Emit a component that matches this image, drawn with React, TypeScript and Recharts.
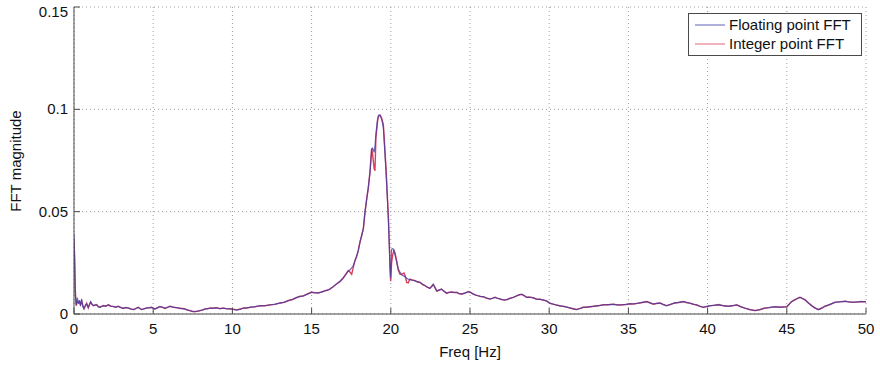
import React from 'react';
import { LineChart, Line, XAxis, YAxis, CartesianGrid } from 'recharts';

const freq = [
  0.0, 0.04, 0.08, 0.14, 0.21, 0.28, 0.34, 0.41, 0.48, 0.56, 0.63, 0.72, 0.8, 0.9, 0.98,
  1.05, 1.14, 1.22, 1.32, 1.43, 1.54, 1.64, 1.75, 1.85, 2.0, 2.17, 2.32, 2.48, 2.64, 2.8,
  2.95, 3.11, 3.27, 3.43, 3.59, 3.75, 3.9, 4.06, 4.17, 4.27, 4.43, 4.59, 4.75, 4.9, 5.0,
  5.11, 5.27, 5.43, 5.59, 5.74, 5.9, 6.06, 6.22, 6.38, 6.53, 6.69, 6.85, 7.0, 7.16, 7.32,
  7.48, 7.64, 7.8, 7.95, 8.11, 8.27, 8.43, 8.59, 8.8, 9.0, 9.21, 9.43, 9.64, 9.85, 10.06,
  10.27, 10.48, 10.69, 10.9, 11.1, 11.42, 11.74, 12.05, 12.37, 12.69, 13.0, 13.27, 13.53, 13.8, 14.06,
  14.27, 14.48, 14.74, 15.0, 15.21, 15.42, 15.64, 15.85, 16.0, 16.16, 16.37, 16.58, 16.79, 17.0, 17.16,
  17.32, 17.42, 17.53, 17.64, 17.74, 17.85, 17.95, 18.06, 18.16, 18.27, 18.37, 18.48, 18.58, 18.69, 18.79,
  18.85, 18.95, 19.0, 19.06, 19.16, 19.22, 19.27, 19.33, 19.43, 19.53, 19.6, 19.7, 19.78, 19.85, 19.91,
  19.95, 19.99, 20.05, 20.12, 20.2, 20.26, 20.37, 20.47, 20.58, 20.7, 20.83, 20.92, 21.0, 21.1, 21.2,
  21.36, 21.53, 21.68, 21.84, 22.0, 22.16, 22.32, 22.47, 22.58, 22.68, 22.79, 22.9, 23.05, 23.2, 23.37,
  23.53, 23.68, 23.84, 24.0, 24.16, 24.32, 24.48, 24.69, 24.9, 25.05, 25.2, 25.35, 25.5, 25.67, 25.84,
  26.05, 26.26, 26.42, 26.58, 26.74, 26.9, 27.05, 27.2, 27.37, 27.53, 27.74, 27.95, 28.1, 28.26, 28.42,
  28.58, 28.74, 28.9, 29.05, 29.2, 29.42, 29.63, 29.84, 30.05, 30.37, 30.7, 30.95, 31.2, 31.45, 31.7,
  31.93, 32.15, 32.47, 32.8, 33.1, 33.4, 33.72, 34.05, 34.32, 34.58, 34.84, 35.1, 35.35, 35.6, 35.88,
  36.15, 36.36, 36.57, 36.78, 37.0, 37.2, 37.4, 37.65, 37.9, 38.18, 38.47, 38.7, 38.9, 39.1, 39.3,
  39.52, 39.73, 39.94, 40.15, 40.42, 40.7, 41.0, 41.3, 41.57, 41.84, 42.1, 42.36, 42.68, 43.0, 43.3,
  43.6, 43.92, 44.25, 44.62, 45.0, 45.15, 45.3, 45.56, 45.83, 46.0, 46.15, 46.36, 46.57, 46.78, 47.0,
  47.2, 47.4, 47.72, 48.05, 48.37, 48.7, 48.95, 49.2, 49.45, 49.7, 50.0,
];

const floatingFFT = [
  0.039, 0.024, 0.009, 0.0045, 0.008, 0.005, 0.0068, 0.004, 0.0073, 0.0035, 0.0024, 0.0045, 0.0049, 0.0032, 0.0045,
  0.006, 0.0048, 0.004, 0.0045, 0.0044, 0.0036, 0.0032, 0.0038, 0.004, 0.0039, 0.0044, 0.0039, 0.0036, 0.0034, 0.0037,
  0.0031, 0.0028, 0.0032, 0.0029, 0.0025, 0.0021, 0.0027, 0.0032, 0.0026, 0.0021, 0.0026, 0.0029, 0.0031, 0.0032, 0.0028,
  0.0024, 0.0031, 0.0037, 0.0032, 0.0028, 0.0033, 0.0037, 0.0034, 0.0032, 0.003, 0.0028, 0.0026, 0.0024, 0.002, 0.0016,
  0.0013, 0.0011, 0.0014, 0.0016, 0.002, 0.0024, 0.0026, 0.0028, 0.0029, 0.003, 0.0027, 0.0028, 0.0026, 0.0025, 0.0022,
  0.0019, 0.0024, 0.0028, 0.003, 0.0032, 0.0036, 0.004, 0.0041, 0.0044, 0.0048, 0.0053, 0.0058, 0.0065, 0.0072, 0.0081,
  0.0085, 0.0089, 0.0097, 0.0105, 0.0104, 0.0102, 0.0108, 0.0113, 0.0117, 0.0121, 0.0135, 0.0146, 0.016, 0.0178, 0.0192,
  0.021, 0.0215, 0.0225, 0.0238, 0.026, 0.0285, 0.031, 0.0355, 0.038, 0.042, 0.05, 0.056, 0.062, 0.069, 0.08,
  0.081, 0.079, 0.082, 0.088, 0.095, 0.097, 0.0972, 0.0968, 0.095, 0.091, 0.082, 0.069, 0.057, 0.045, 0.032,
  0.022, 0.0175, 0.0316, 0.032, 0.031, 0.029, 0.0255, 0.022, 0.0205, 0.019, 0.0185, 0.018, 0.0175, 0.017, 0.0168,
  0.0165, 0.0162, 0.0158, 0.0154, 0.0146, 0.0138, 0.0131, 0.0125, 0.0134, 0.0146, 0.0128, 0.0113, 0.0118, 0.0121, 0.011,
  0.0102, 0.0105, 0.0108, 0.0106, 0.0105, 0.01, 0.0097, 0.0103, 0.0108, 0.0105, 0.0097, 0.0093, 0.0089, 0.0086, 0.0084,
  0.0078, 0.0073, 0.0077, 0.0081, 0.0077, 0.0073, 0.007, 0.0068, 0.0072, 0.0076, 0.0082, 0.0089, 0.0093, 0.0097, 0.0089,
  0.0081, 0.0083, 0.0081, 0.0077, 0.0073, 0.0071, 0.0069, 0.0063, 0.0053, 0.0045, 0.004, 0.0036, 0.0032, 0.0026, 0.0021,
  0.0027, 0.0032, 0.0035, 0.0037, 0.0041, 0.0044, 0.0046, 0.0047, 0.0045, 0.0044, 0.0047, 0.0049, 0.005, 0.0052, 0.0057,
  0.006, 0.0054, 0.0049, 0.0052, 0.0053, 0.0046, 0.004, 0.0047, 0.0053, 0.0057, 0.006, 0.0056, 0.0052, 0.0048, 0.0044,
  0.0038, 0.0032, 0.0037, 0.004, 0.0043, 0.0045, 0.0041, 0.0037, 0.0041, 0.0044, 0.0036, 0.0028, 0.0022, 0.0016, 0.0022,
  0.0028, 0.0032, 0.0035, 0.0034, 0.0035, 0.0048, 0.006, 0.0072, 0.0081, 0.0076, 0.0069, 0.0055, 0.004, 0.003, 0.0021,
  0.0029, 0.0037, 0.0047, 0.0057, 0.006, 0.0062, 0.0059, 0.0057, 0.0059, 0.006, 0.006,
];

const integerFFT = [
  0.036, 0.028, 0.012, 0.004, 0.006, 0.0055, 0.006, 0.0045, 0.0065, 0.004, 0.0028, 0.004, 0.0052, 0.003, 0.0048,
  0.0058, 0.0046, 0.0042, 0.0043, 0.0046, 0.0035, 0.0034, 0.0037, 0.0041, 0.0038, 0.0045, 0.0038, 0.0037, 0.0033, 0.0038,
  0.0032, 0.0027, 0.0031, 0.003, 0.0024, 0.0022, 0.0026, 0.0033, 0.0027, 0.0022, 0.0025, 0.003, 0.003, 0.0033, 0.0029,
  0.0025, 0.003, 0.0036, 0.0033, 0.0027, 0.0032, 0.0038, 0.0035, 0.0031, 0.0031, 0.0027, 0.0027, 0.0025, 0.0019, 0.0017,
  0.0012, 0.0012, 0.0013, 0.0017, 0.0019, 0.0025, 0.0025, 0.0029, 0.0028, 0.0031, 0.0026, 0.0029, 0.0025, 0.0026, 0.0023,
  0.002, 0.0023, 0.0029, 0.0029, 0.0033, 0.0035, 0.0041, 0.004, 0.0045, 0.0047, 0.0054, 0.0057, 0.0066, 0.0071, 0.008,
  0.0087, 0.0088, 0.0098, 0.0107, 0.0103, 0.0104, 0.0107, 0.0114, 0.0116, 0.0123, 0.0133, 0.0148, 0.0158, 0.0176, 0.0195,
  0.0212, 0.0205, 0.0194, 0.023, 0.0262, 0.0282, 0.0312, 0.0352, 0.0385, 0.0418, 0.0495, 0.0565, 0.0615, 0.07, 0.081,
  0.078, 0.071, 0.07, 0.086, 0.094, 0.0965, 0.097, 0.0972, 0.0955, 0.0925, 0.084, 0.071, 0.058, 0.047, 0.034,
  0.024, 0.016, 0.025, 0.029, 0.031, 0.03, 0.026, 0.0215, 0.0194, 0.0195, 0.02, 0.0185, 0.0154, 0.0152, 0.017,
  0.0166, 0.0163, 0.0156, 0.0155, 0.0144, 0.0139, 0.013, 0.0126, 0.0136, 0.0144, 0.013, 0.0112, 0.0116, 0.0122, 0.0111,
  0.0101, 0.0106, 0.0107, 0.0105, 0.0106, 0.0099, 0.0098, 0.0102, 0.011, 0.0104, 0.0098, 0.0092, 0.009, 0.0085, 0.0085,
  0.0077, 0.0074, 0.0076, 0.0082, 0.0076, 0.0074, 0.0069, 0.0069, 0.0071, 0.0077, 0.0081, 0.0088, 0.0094, 0.0096, 0.009,
  0.0082, 0.0082, 0.008, 0.0078, 0.0072, 0.0072, 0.0068, 0.0064, 0.0052, 0.0046, 0.0039, 0.0037, 0.0031, 0.0027, 0.0022,
  0.0026, 0.0033, 0.0034, 0.0038, 0.004, 0.0045, 0.0045, 0.0048, 0.0044, 0.0045, 0.0046, 0.005, 0.0049, 0.0053, 0.0056,
  0.0061, 0.0055, 0.0048, 0.0051, 0.0054, 0.0047, 0.0041, 0.0046, 0.0054, 0.0056, 0.0061, 0.0055, 0.0053, 0.0047, 0.0045,
  0.0037, 0.0033, 0.0036, 0.0041, 0.0042, 0.0046, 0.004, 0.0038, 0.004, 0.0045, 0.0035, 0.0029, 0.0021, 0.0017, 0.0021,
  0.0029, 0.0031, 0.0036, 0.0033, 0.0036, 0.0047, 0.0061, 0.0071, 0.0082, 0.0075, 0.007, 0.0054, 0.0041, 0.0029, 0.0022,
  0.0028, 0.0038, 0.0046, 0.0058, 0.0059, 0.0063, 0.0058, 0.0058, 0.0058, 0.0061, 0.0059,
];

const xTicks = [0, 5, 10, 15, 20, 25, 30, 35, 40, 45, 50];
const yTicks = [0, 0.05, 0.1, 0.15];
const yTickLabels = ['0', '0.05', '0.1', '0.15'];
const seriesNames = ['Floating point FFT', 'Integer point FFT'];

const BLUE = '#3a3aa8';
const RED = '#d8405a';
const AXIS = '#4a4a4a';
const FONT = '"Liberation Sans", Arial, Helvetica, sans-serif';

const data = freq.map((f, i) => ({ f, floating: floatingFFT[i], integer: integerFFT[i] }));

const BottomTick = (props: any) => {
  const { x, y, payload } = props;
  return (
    <g>
      <line x1={x} x2={x} y1={y} y2={y - 6} stroke={AXIS} strokeWidth={1} />
      <text x={x} y={y + 20} textAnchor="middle" fontSize={15} fill="#111" fontFamily={FONT}>
        {String(payload.value)}
      </text>
    </g>
  );
};

const TopTick = (props: any) => {
  const { x, y } = props;
  return <line x1={x} x2={x} y1={y} y2={y + 6} stroke={AXIS} strokeWidth={1} />;
};

const LeftTick = (props: any) => {
  const { x, y, payload } = props;
  const idx = yTicks.indexOf(payload.value);
  const baseline = Math.max(y + 5, 17);
  return (
    <g>
      <line x1={x} x2={x + 6} y1={y} y2={y} stroke={AXIS} strokeWidth={1} />
      <text x={x - 6} y={baseline} textAnchor="end" fontSize={15} fill="#111" fontFamily={FONT}>
        {idx >= 0 ? yTickLabels[idx] : String(payload.value)}
      </text>
    </g>
  );
};

const RightTick = (props: any) => {
  const { x, y } = props;
  return <line x1={x} x2={x - 6} y1={y} y2={y} stroke={AXIS} strokeWidth={1} />;
};

export default function App() {
  return (
    <div style={{ position: 'absolute', left: 0, top: 0, width: 880, height: 368, background: '#fff' }}>
      <LineChart
        width={880}
        height={368}
        data={data}
        margin={{ top: 7, right: 14, bottom: 0, left: 0 }}
      >
        <CartesianGrid
          stroke="#9a9a9a"
          strokeDasharray="1 3"
          horizontalValues={yTicks}
          verticalValues={xTicks}
        />
        <XAxis
          dataKey="f"
          type="number"
          domain={[0, 50]}
          ticks={xTicks}
          allowDataOverflow
          height={54}
          tickSize={0}
          tickMargin={0}
          tickLine={false}
          axisLine={{ stroke: AXIS, strokeWidth: 1 }}
          tick={BottomTick}
          interval={0}
        />
        <XAxis
          xAxisId="top"
          orientation="top"
          dataKey="f"
          type="number"
          domain={[0, 50]}
          ticks={xTicks}
          allowDataOverflow
          height={0}
          tickSize={0}
          tickMargin={0}
          tickLine={false}
          axisLine={{ stroke: AXIS, strokeWidth: 1 }}
          tick={TopTick}
          interval={0}
        />
        <YAxis
          type="number"
          domain={[0, 0.15]}
          ticks={yTicks}
          allowDataOverflow
          width={74}
          tickSize={0}
          tickMargin={0}
          tickLine={false}
          axisLine={{ stroke: AXIS, strokeWidth: 1 }}
          tick={LeftTick}
          interval={0}
        />
        <YAxis
          yAxisId="right"
          orientation="right"
          type="number"
          domain={[0, 0.15]}
          ticks={yTicks}
          allowDataOverflow
          width={0}
          tickSize={0}
          tickMargin={0}
          tickLine={false}
          axisLine={{ stroke: AXIS, strokeWidth: 1 }}
          tick={RightTick}
          interval={0}
        />
        <Line
          type="linear"
          dataKey="integer"
          name={seriesNames[1]}
          stroke={RED}
          strokeWidth={1.4}
          dot={false}
          isAnimationActive={false}
        />
        <Line
          type="linear"
          dataKey="floating"
          name={seriesNames[0]}
          stroke={BLUE}
          strokeWidth={1.2}
          strokeOpacity={0.75}
          dot={false}
          isAnimationActive={false}
        />
        <text
          x={15}
          y={161}
          transform="rotate(-90 15 161)"
          textAnchor="middle"
          dominantBaseline="central"
          fontSize={15}
          fill="#111"
          fontFamily={FONT}
        >
          FFT magnitude
        </text>
        <text x={470} y={357} textAnchor="middle" fontSize={15} fill="#111" fontFamily={FONT}>
          Freq [Hz]
        </text>
      </LineChart>
      <div
        style={{
          position: 'absolute',
          left: 688,
          top: 13,
          width: 174,
          height: 43,
          border: `1px solid ${AXIS}`,
          background: '#fff',
          fontFamily: FONT,
          fontSize: 15,
          color: '#111',
          boxSizing: 'border-box',
        }}
      >
        {seriesNames.map((name, i) => (
          <div
            key={name}
            style={{ position: 'absolute', left: 5, top: i === 0 ? 2 : 21, height: 18, display: 'flex', alignItems: 'center', whiteSpace: 'nowrap' }}
          >
            <svg width={32} height={18} style={{ display: 'block' }}>
              <line x1={1} x2={31} y1={9} y2={9} stroke={i === 0 ? BLUE : RED} strokeWidth={1} strokeOpacity={0.8} />
            </svg>
            <span style={{ marginLeft: 3, lineHeight: '18px' }}>{name}</span>
          </div>
        ))}
      </div>
    </div>
  );
}
